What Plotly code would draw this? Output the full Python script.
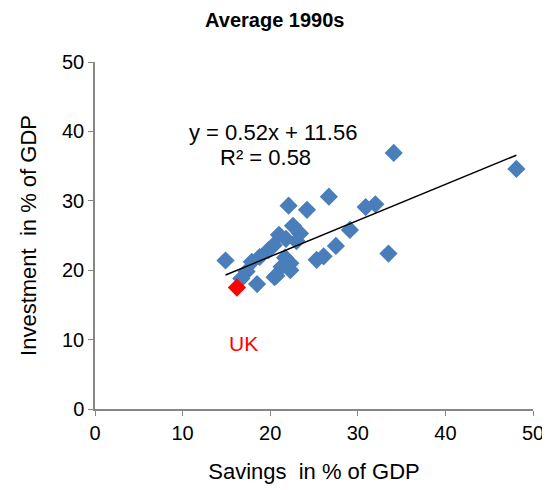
import plotly.graph_objects as go

savings = [14.9, 18.5, 22.1, 24.2, 26.7, 30.9, 32.0, 29.1, 27.5, 25.3, 26.1, 33.5,
           34.1, 48.1, 21.0, 22.6, 23.4, 20.4, 19.8, 18.8, 17.9, 17.3, 16.7, 20.7,
           21.3, 22.3, 21.7, 20.5, 22.3, 23.0, 21.8]
investment = [21.4, 18.0, 29.3, 28.7, 30.6, 29.1, 29.5, 25.8, 23.5, 21.5, 22.0, 22.4,
              36.9, 34.6, 25.1, 26.4, 25.3, 23.6, 22.9, 21.9, 21.2, 19.8, 18.8, 19.2,
              20.5, 21.0, 21.8, 19.0, 20.0, 24.2, 24.5]
uk_savings = [16.2]
uk_investment = [17.5]
slope, intercept = 0.52, 11.56

all_x = savings + uk_savings
x0, x1 = min(all_x), max(all_x)

FONT = "Arial, Liberation Sans"
fig = go.Figure()
fig.add_trace(go.Scatter(x=savings, y=investment, mode="markers",
                         marker=dict(symbol="diamond", size=14, color="#4A7EBB"),
                         showlegend=False))
fig.add_trace(go.Scatter(x=uk_savings, y=uk_investment, mode="markers",
                         marker=dict(symbol="diamond", size=14, color="#FF0000"),
                         showlegend=False))
fig.add_trace(go.Scatter(x=[x0, x1], y=[slope * x0 + intercept, slope * x1 + intercept],
                         mode="lines", line=dict(color="black", width=1.5),
                         showlegend=False))

axis_common = dict(showgrid=False, zeroline=False, showline=True, linecolor="#868686",
                   linewidth=1.5, ticks="outside", ticklen=5, tickcolor="#868686",
                   tickfont=dict(family=FONT, size=20, color="black"),
                   dtick=10)
fig.update_layout(
    width=550, height=490,
    margin=dict(l=87, r=25, t=54, b=89),
    paper_bgcolor="white", plot_bgcolor="white",
    title=dict(text="<b>Average 1990s</b>", x=0.485, xanchor="center", y=0.975,
               yanchor="middle", font=dict(family=FONT, size=20, color="black")),
    xaxis=dict(range=[0, 50], title=dict(text="Savings  in % of GDP", standoff=21,
               font=dict(family=FONT, size=22, color="black")),
               **axis_common),
    yaxis=dict(range=[0, 50], title=dict(text="Investment  in % of GDP", standoff=19,
               font=dict(family=FONT, size=22, color="black")),
               **axis_common),
    annotations=[
        dict(x=20.3, y=39.9, xref="x", yref="y", text="y = 0.52x + 11.56", showarrow=False,
             font=dict(family=FONT, size=22, color="black")),
        dict(x=19.5, y=36.2, xref="x", yref="y", text="R² = 0.58", showarrow=False,
             font=dict(family=FONT, size=22, color="black")),
        dict(x=16.9, y=9.5, xref="x", yref="y", text="UK", showarrow=False,
             font=dict(family=FONT, size=21, color="#FF0000")),
    ],
)
fig.write_html("out.html")
